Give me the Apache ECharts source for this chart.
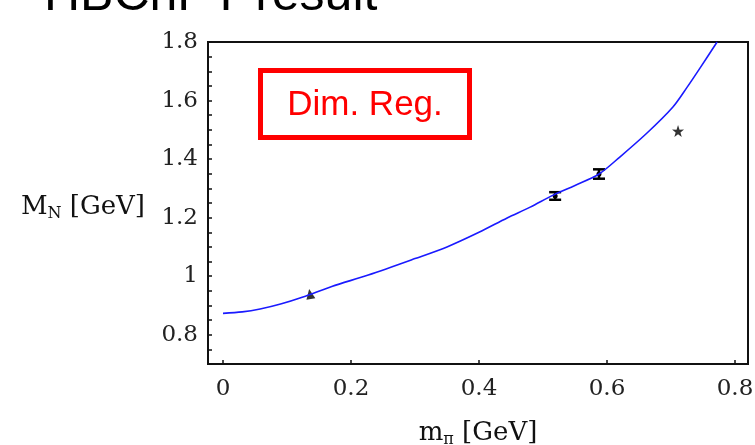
<!DOCTYPE html>
<html>
<head>
<meta charset="utf-8">
<script src="https://cdn.jsdelivr.net/npm/echarts@6/dist/echarts.min.js"></script>
<style>
  html, body { margin: 0; padding: 0; background: #fff; }
  #chart { width: 755px; height: 445px; }
</style>
</head>
<body>
<div id="chart"></div>
<script>
// Axis tick values
const xTicks = [0, 0.2, 0.4, 0.6, 0.8];
const yTicks = [0.8, 1, 1.2, 1.4, 1.6, 1.8];

// Fitted nucleon mass curve M_N(m_pi)
const curveX = [0, 0.03, 0.058, 0.09, 0.125, 0.17, 0.227, 0.3, 0.35, 0.4, 0.444, 0.48, 0.516, 0.55, 0.5875, 0.62, 0.6625, 0.703, 0.725, 0.745, 0.772];
const curveY = [0.873, 0.878, 0.888, 0.905, 0.929, 0.965, 1.004, 1.060, 1.100, 1.150, 1.199, 1.236, 1.277, 1.310, 1.349, 1.407, 1.489, 1.578, 1.645, 1.710, 1.800];

// Physical point
const physX = [0.136];
const physY = [0.939];

// Lattice points with error bars
const latX = [0.519, 0.5875];
const latY = [1.274, 1.349];
const latErr = [0.013, 0.016];

// Heaviest point (not in fit)
const starX = [0.711];
const starY = [1.496];

const serif = '"DejaVu Serif", "Liberation Serif", serif';
const sans = '"Liberation Sans", Arial, sans-serif';

const chart = echarts.init(document.getElementById('chart'), null, { renderer: 'canvas' });

const starPath = 'path://M50,0 L61.8,35.1 L97.6,34.5 L69.1,56.9 L79.4,90.5 L50,70 L20.6,90.5 L30.9,56.9 L2.4,34.5 L38.2,35.1 Z';

const nameRich = {
  m: { fontFamily: serif, fontSize: 26, color: '#111' },
  s: { fontFamily: serif, fontSize: 16, color: '#111', padding: [13, 0, 0, 0] }
};

chart.setOption({
  backgroundColor: '#ffffff',
  animation: false,
  grid: {
    left: 208, right: 7, top: 42, bottom: 81,
    outerBoundsMode: 'none', containLabel: false,
    show: true, borderColor: '#111', borderWidth: 2, backgroundColor: 'transparent'
  },
  graphic: [
    {
      type: 'text', x: 44, y: 21,
      style: {
        text: 'HBChPT result', font: '50px ' + sans, fill: '#000',
        textAlign: 'left', textVerticalAlign: 'bottom'
      }
    },
    {
      type: 'rect', z: 10,
      shape: { x: 260.5, y: 70.5, width: 209, height: 67 },
      style: { fill: '#fff', stroke: '#ff0000', lineWidth: 5 }
    },
    {
      type: 'text', z: 11, x: 365, y: 105,
      style: {
        text: 'Dim. Reg.', font: '35px ' + sans, fill: '#ff0000',
        textAlign: 'center', textVerticalAlign: 'middle'
      }
    }
  ],
  xAxis: {
    type: 'value', min: -0.0234, max: 0.8203,
    name: '{m|m}{s|π}{m| [GeV]}',
    nameLocation: 'middle', nameGap: 55,
    nameTextStyle: { rich: nameRich },
    axisLine: { show: true, onZero: false, lineStyle: { color: '#111', width: 2 } },
    axisTick: { show: true, inside: true, length: 4, customValues: xTicks, lineStyle: { color: '#111', width: 1.5 } },
    axisLabel: { customValues: xTicks, margin: 14, fontFamily: serif, fontSize: 23, color: '#222' },
    splitLine: { show: false }
  },
  yAxis: {
    type: 'value', min: 0.7, max: 1.8, interval: 0.05,
    name: '{m|M}{s|N}{m| [GeV]}',
    nameLocation: 'middle', nameGap: 63, nameRotate: 0,
    nameTextStyle: { align: 'right', padding: [8, 0, 0, 0], rich: nameRich },
    axisLine: { show: true, onZero: false, lineStyle: { color: '#111', width: 2 } },
    axisTick: { show: true, inside: true, length: 4, lineStyle: { color: '#111', width: 1.5 } },
    axisLabel: {
      customValues: yTicks, margin: 10, fontFamily: serif, fontSize: 23, color: '#222',
      formatter: v => String(Math.round(v * 10) / 10)
    },
    splitLine: { show: false }
  },
  series: [
    {
      type: 'line', name: 'fit',
      data: curveX.map((x, i) => [x, curveY[i]]),
      smooth: 0.3, showSymbol: false, clip: true,
      lineStyle: { color: '#1a1aff', width: 1.6 }
    },
    {
      type: 'scatter', name: 'physical',
      data: physX.map((x, i) => [x, physY[i]]),
      symbol: 'triangle', symbolSize: [9, 10], symbolRotate: 10,
      itemStyle: { color: '#000' }
    },
    {
      type: 'custom', name: 'lattice',
      data: latX.map((x, i) => [x, latY[i], latErr[i]]),
      renderItem: function (params, api) {
        const x = api.value(0), y = api.value(1), e = api.value(2);
        const top = api.coord([x, y + e]);
        const bot = api.coord([x, y - e]);
        const mid = api.coord([x, y]);
        const hw = 6;
        const st = { stroke: '#000', lineWidth: 2.5 };
        return {
          type: 'group',
          children: [
            { type: 'line', shape: { x1: top[0], y1: top[1], x2: bot[0], y2: bot[1] }, style: st },
            { type: 'line', shape: { x1: top[0] - hw, y1: top[1], x2: top[0] + hw, y2: top[1] }, style: st },
            { type: 'line', shape: { x1: bot[0] - hw, y1: bot[1], x2: bot[0] + hw, y2: bot[1] }, style: st },
            { type: 'circle', shape: { cx: mid[0], cy: mid[1], r: 2.5 }, style: { fill: '#000' } }
          ]
        };
      }
    },
    {
      type: 'scatter', name: 'heavy',
      data: starX.map((x, i) => [x, starY[i]]),
      symbol: starPath, symbolSize: 12,
      itemStyle: { color: '#000' }
    }
  ]
});
</script>
</body>
</html>
